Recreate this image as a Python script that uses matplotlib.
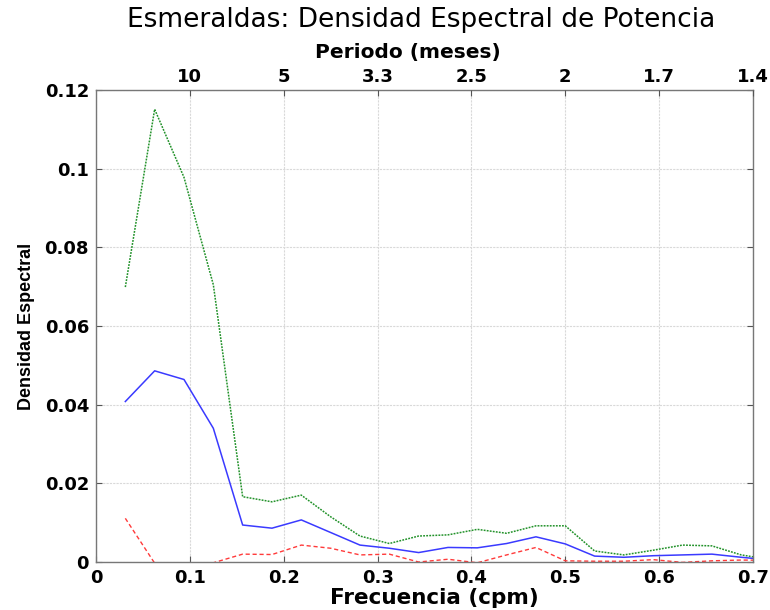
import matplotlib
matplotlib.use("Agg")
import matplotlib.pyplot as plt
import numpy as np

plt.rcParams['font.family'] = ['DejaVu Sans']

freq = [i / 32 for i in range(1, 24)]
densidad = [0.0408, 0.0486, 0.0464, 0.0340, 0.0094, 0.0086, 0.0107, 0.0075,
            0.0043, 0.0035, 0.0024, 0.0037, 0.0036, 0.0047, 0.0064, 0.0046,
            0.0015, 0.0012, 0.0016, 0.0018, 0.0020, 0.0012, 0.0005]
superior = [0.0699, 0.1151, 0.0978, 0.0705, 0.0166, 0.0153, 0.0170, 0.0115,
            0.0066, 0.0047, 0.0066, 0.0069, 0.0083, 0.0073, 0.0092, 0.0092,
            0.0028, 0.0018, 0.0030, 0.0043, 0.0041, 0.0018, 0.0006]
inferior = [0.0111, -0.0003, -0.0040, -0.0002, 0.0020, 0.0019, 0.0043, 0.0035,
            0.0018, 0.0020, 0.0000, 0.0007, -0.0002, 0.0018, 0.0037, 0.0003,
            0.0002, 0.0002, 0.0006, -0.0001, 0.0003, 0.0005, 0.0004]

xticks = [0, 0.1, 0.2, 0.3, 0.4, 0.5, 0.6, 0.7]
yticks = [0, 0.02, 0.04, 0.06, 0.08, 0.1, 0.12]
top_ticks = [0.1, 0.2, 0.3, 0.4, 0.5, 0.6, 0.7]
top_labels = ['10', '5', '3.3', '2.5', '2', '1.7', '1.4']

fig = plt.figure(figsize=(7.7, 6.1), dpi=100)
ax = fig.add_axes([96/770, 1-562/610, (753-96)/770, (562-90)/610])

ax.plot(freq, superior, color='#22922a', linestyle=(0, (1.2, 0.8)), linewidth=1.1)
ax.plot(freq, densidad, color='#3a3aff', linestyle='-', linewidth=1.1)
ax.plot(freq, inferior, color='#ff3a3a', linestyle=(0, (3, 2)), linewidth=1.0)

ax.set_xlim(0, 0.7)
ax.set_ylim(0, 0.12)
ax.set_xticks(xticks)
ax.set_xticklabels([('0' if t == 0 else f'{t:g}') for t in xticks])
ax.set_yticks(yticks)
ax.set_yticklabels([('0' if t == 0 else f'{t:g}') for t in yticks])
ax.grid(True, color='#d9d9d9', linestyle=(0, (2, 1)), linewidth=0.8)
ax.tick_params(direction='in', length=4, color='#555555', labelsize=13,
               right=True, top=False, width=0.8, pad=5)
for lab in ax.get_xticklabels() + ax.get_yticklabels():
    lab.set_fontweight('bold')
for sp in ax.spines.values():
    sp.set_color('#777777')
    sp.set_linewidth(1.0)

ax.set_xlabel('Frecuencia (cpm)', fontsize=15.5, fontweight='bold')
ax.xaxis.set_label_coords(0.515, -0.055)
ax.set_ylabel('Densidad Espectral', fontsize=13, fontweight='bold',
              family=['Liberation Sans', 'DejaVu Sans'])
ax.yaxis.set_label_coords(-0.093, 0.5)

ax2 = ax.twiny()
ax2.set_xlim(ax.get_xlim())
ax2.set_xticks(top_ticks)
ax2.set_xticklabels(top_labels, fontweight='bold')
ax2.tick_params(direction='in', length=4, color='#555555', labelsize=13, width=0.8, pad=3)
for sp in ax2.spines.values():
    sp.set_visible(False)
ax2.set_xlabel('Periodo (meses)', fontsize=14.5, fontweight='bold')
ax2.xaxis.set_label_coords(0.475, 1.068)

fig.text(421 / 770, 1 - 20/610, 'Esmeraldas: Densidad Espectral de Potencia',
         ha='center', va='center', fontsize=19)

fig.savefig('out.png', dpi=100)
